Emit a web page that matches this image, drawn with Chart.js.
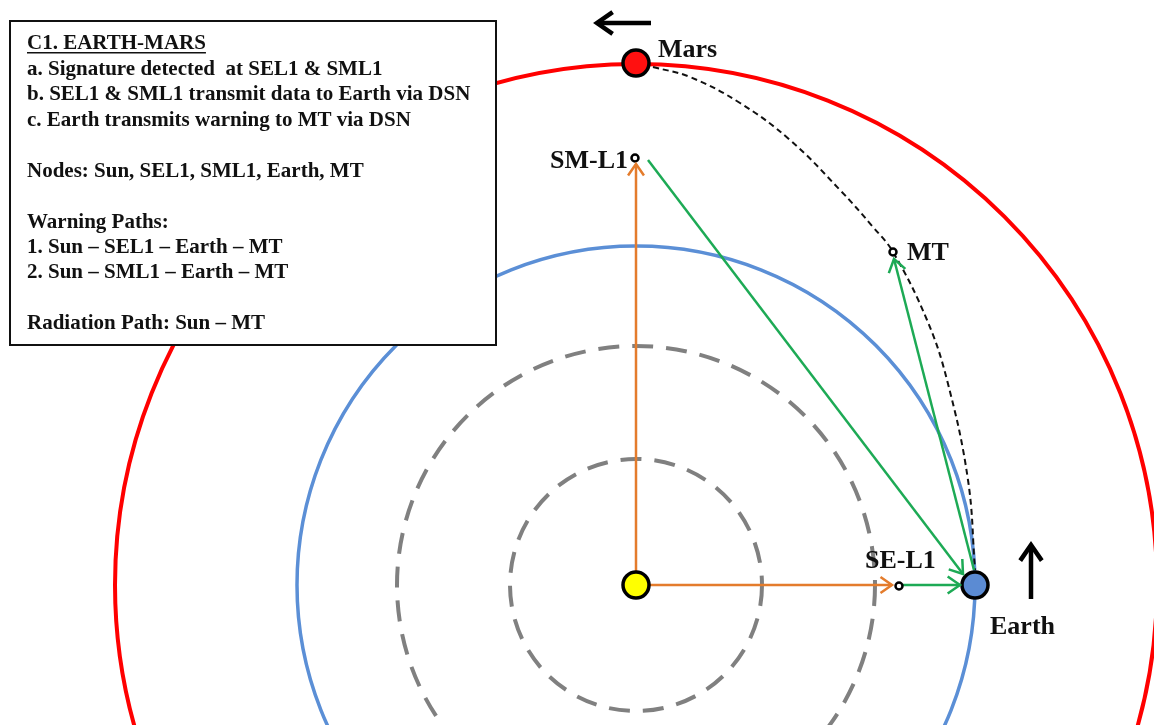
<!DOCTYPE html>
<html lang="en">
<head>
<meta charset="UTF-8">
<title>C1. Earth-Mars</title>
<script src="https://cdn.jsdelivr.net/npm/chart.js"></script>
<style>
  body { margin: 0; background: #fff; }
  canvas { display: block; }
</style>
</head>
<body>
<canvas id="orbitChart" width="1154" height="725"></canvas>

<script>
// bodies (sun at origin, units ~ px of the original picture, y up)
const bodyNames = ["Sun", "Earth", "Mars", "SE-L1", "SM-L1", "MT"];
const bodyX = [0, 339, 0, 263, -1, 257];
const bodyY = [0, 0, 522, -1, 427, 333];
const bodyColors = ["#ffff00", "#5b8bd3", "#ff1010", "#ffffff", "#ffffff", "#ffffff"];
const bodySizes = [13, 13, 13, 3.5, 3.5, 3.5];

// orbits: two dashed inner ones, Earth, Mars
const orbitRadii = [126, 239, 339, 521];
const orbitColors = ["#808080", "#808080", "#5b8fd6", "#ff0000"];
const orbitDashed = [true, true, false, false];

// arrows: [x0, y0, x1, y1]
const orangeArrows = [[0, 0, 0, 421], [0, 0, 256, 0]];
const greenArrows = [[267, 0, 324, 0], [12, 425, 327, 11], [338, 15, 258, 326]];
const motionArrows = [[15, 562, -39, 562], [395, -14, 395, 40]];

// dashed transfer path Mars -> MT -> Earth
const transferX = [17, 54, 104, 154, 204, 237, 257, 291, 311, 332, 339];
const transferY = [518, 508, 482, 445, 395, 358, 333, 265, 205, 105, 15];

// labels
const labelText = ["Mars", "SM-L1", "MT", "SE-L1", "Earth"];
const labelX = [22, -8, 271, 229, 354];
const labelY = [528, 417, 325, 17, -49];
const labelAlign = ["left", "right", "left", "left", "left"];

// notes box
const noteLines = [
  "C1. EARTH-MARS",
  "a. Signature detected  at SEL1 & SML1",
  "b. SEL1 & SML1 transmit data to Earth via DSN",
  "c. Earth transmits warning to MT via DSN",
  "",
  "Nodes: Sun, SEL1, SML1, Earth, MT",
  "",
  "Warning Paths:",
  "1. Sun \u2013 SEL1 \u2013 Earth \u2013 MT",
  "2. Sun \u2013 SML1 \u2013 Earth \u2013 MT",
  "",
  "Radiation Path: Sun \u2013 MT"
];

function arrowSet(list, color, width, head) {
  return list.map(a => ({
    data: [{x: a[0], y: a[1]}, {x: a[2], y: a[3]}],
    showLine: true, borderColor: color, borderWidth: width,
    pointRadius: 0, fill: false, arrowHead: head
  }));
}

const datasets = [];
datasets.push({
  label: "bodies",
  data: bodyX.map((x, i) => ({x: x, y: bodyY[i]})),
  pointRadius: bodySizes,
  pointBackgroundColor: bodyColors,
  pointBorderColor: "#000",
  pointBorderWidth: [3.5, 3.5, 3.5, 2.5, 2.5, 2.5],
  showLine: false
});
datasets.push(...arrowSet(orangeArrows, "#e47c2c", 2.5, 14));
datasets.push(...arrowSet(greenArrows, "#1daa55", 2.5, 15));
datasets.push(...arrowSet(motionArrows, "#000000", 4.5, 19));
datasets.push({
  label: "transfer",
  data: transferX.map((x, i) => ({x: x, y: transferY[i]})),
  showLine: true, borderColor: "#111", borderWidth: 2, borderDash: [6, 4],
  pointRadius: 0, tension: 0.4
});

const serif = "'Liberation Serif', 'Times New Roman', serif";

const orbitPlugin = {
  id: "orbits",
  beforeDatasetsDraw(chart) {
    const ctx = chart.ctx, xs = chart.scales.x, ys = chart.scales.y;
    const cx = xs.getPixelForValue(0), cy = ys.getPixelForValue(0);
    ctx.save();
    orbitRadii.forEach((r, i) => {
      const rp = xs.getPixelForValue(r) - cx;
      ctx.beginPath();
      ctx.arc(cx, cy, rp, 0, Math.PI * 2);
      ctx.strokeStyle = orbitColors[i];
      ctx.lineWidth = orbitDashed[i] ? 4 : (i === 3 ? 4 : 3.5);
      ctx.setLineDash(orbitDashed[i] ? [21, 13] : []);
      ctx.stroke();
    });
    ctx.restore();
  },
  afterDatasetsDraw(chart) {
    const ctx = chart.ctx, xs = chart.scales.x, ys = chart.scales.y;
    ctx.save();
    chart.data.datasets.forEach((ds, i) => {
      if (!ds.arrowHead) return;
      const pts = chart.getDatasetMeta(i).data;
      const a = pts[0], b = pts[1];
      const ang = Math.atan2(b.y - a.y, b.x - a.x);
      const h = ds.arrowHead, spread = Math.PI / 5.2;
      ctx.beginPath();
      ctx.moveTo(b.x - h * Math.cos(ang - spread), b.y - h * Math.sin(ang - spread));
      ctx.lineTo(b.x, b.y);
      ctx.lineTo(b.x - h * Math.cos(ang + spread), b.y - h * Math.sin(ang + spread));
      ctx.strokeStyle = ds.borderColor;
      ctx.lineWidth = ds.borderWidth;
      ctx.setLineDash([]);
      ctx.stroke();
    });
    ctx.font = "bold 26px " + serif;
    ctx.fillStyle = "#111";
    ctx.textBaseline = "alphabetic";
    labelText.forEach((t, i) => {
      ctx.textAlign = labelAlign[i];
      ctx.fillText(t, xs.getPixelForValue(labelX[i]), ys.getPixelForValue(labelY[i]));
    });

    // notes box in the top-left corner
    ctx.fillStyle = "#fff";
    ctx.fillRect(10, 21, 486, 324);
    ctx.strokeStyle = "#111";
    ctx.lineWidth = 2;
    ctx.strokeRect(10, 21, 486, 324);
    ctx.font = "bold 21px " + serif;
    ctx.fillStyle = "#111";
    ctx.textAlign = "left";
    ctx.textBaseline = "middle";
    noteLines.forEach((t, i) => {
      if (!t) return;
      const y = 44 + i * 25.45;
      ctx.fillText(t, 27, y);
      if (i === 0) {
        const w = ctx.measureText(t).width;
        ctx.fillRect(27, y + 8, w, 1.5);
      }
    });
    ctx.restore();
  }
};

new Chart(document.getElementById("orbitChart"), {
  type: "scatter",
  data: { datasets: datasets },
  options: {
    responsive: false,
    animation: false,
    layout: { padding: 0, autoPadding: false },
    scales: {
      x: { type: "linear", min: -636, max: 518, display: false },
      y: { type: "linear", min: -140, max: 585, display: false }
    },
    plugins: { legend: { display: false }, tooltip: { enabled: false } }
  },
  plugins: [orbitPlugin]
});
</script>
</body>
</html>
